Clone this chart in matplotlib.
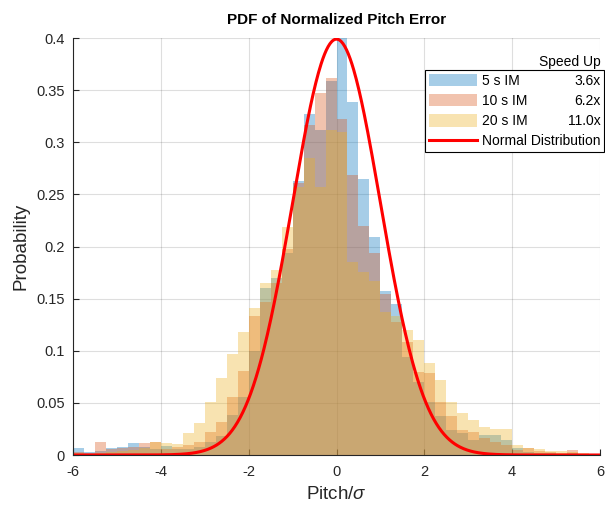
import numpy as np
import matplotlib
matplotlib.use('Agg')
import matplotlib.pyplot as plt
import matplotlib.patches as mpatches
from matplotlib.lines import Line2D

plt.rcParams['font.family'] = ['Liberation Sans', 'DejaVu Sans']
plt.rcParams['mathtext.fontset'] = 'custom'
plt.rcParams['mathtext.it'] = 'Liberation Sans:italic'
plt.rcParams['axes.unicode_minus'] = False

# histogram bins (normalized as pdf), left edges from -6 to 5.75, width 0.25
bin_width = 0.25
bin_edges = np.arange(-6, 6, bin_width)

pdf_5s = [0.0064, 0.003, 0.004, 0.0064, 0.0074, 0.0118, 0.008, 0.006,
          0.009, 0.006, 0.006, 0.008, 0.012, 0.018, 0.038, 0.056,
          0.100, 0.160, 0.170, 0.194, 0.263, 0.327, 0.312, 0.359,
          0.400, 0.339, 0.265, 0.209, 0.157, 0.145, 0.094, 0.070,
          0.051, 0.037, 0.024, 0.021, 0.0144, 0.019, 0.019, 0.0144,
          0.0064, 0.003, 0.002, 0.002, 0.001, 0.002, 0.001, 0.0]
pdf_10s = [0.003, 0.002, 0.0128, 0.0054, 0.0064, 0.008, 0.0118, 0.0128,
           0.006, 0.008, 0.010, 0.0128, 0.022, 0.032, 0.056, 0.081,
           0.133, 0.147, 0.165, 0.198, 0.261, 0.317, 0.347, 0.362,
           0.322, 0.269, 0.220, 0.194, 0.154, 0.128, 0.108, 0.080,
           0.079, 0.051, 0.037, 0.024, 0.0224, 0.016, 0.012, 0.010,
           0.005, 0.0064, 0.004, 0.003, 0.002, 0.0048, 0.001, 0.001]
pdf_20s = [0.002, 0.001, 0.002, 0.003, 0.004, 0.005, 0.007, 0.0128,
           0.0118, 0.011, 0.0208, 0.031, 0.051, 0.0735, 0.097, 0.118,
           0.141, 0.165, 0.1775, 0.219, 0.257, 0.285, 0.257, 0.312,
           0.310, 0.185, 0.176, 0.167, 0.137, 0.133, 0.120, 0.110,
           0.088, 0.072, 0.051, 0.040, 0.0336, 0.027, 0.0246, 0.0246,
           0.0096, 0.0064, 0.0054, 0.004, 0.004, 0.003, 0.002, 0.001]

labels = ['5 s IM', '10 s IM', '20 s IM']
speedups = ['3.6x', '6.2x', '11.0x']
colors = ['#0072bd', '#d95319', '#edb120']
face_alpha = 0.35

fig = plt.figure(figsize=(6.05, 5.05), dpi=100)
ax = fig.add_axes([0.1207, 0.099, 0.8710, 0.8257])

for vals, c in zip([pdf_5s, pdf_10s, pdf_20s], colors):
    ax.bar(bin_edges, vals, width=bin_width, align='edge', color=c,
           alpha=face_alpha, linewidth=0)

x = np.linspace(-6, 6, 600)
ax.plot(x, np.exp(-x**2 / 2) / np.sqrt(2 * np.pi), color='red', lw=2.2)

ax.set_xlim(-6, 6)
ax.set_ylim(0, 0.4)
ax.set_xticks(np.arange(-6, 7, 2))
ax.set_yticks(np.arange(0, 0.41, 0.05))
ax.set_yticklabels(['0', '0.05', '0.1', '0.15', '0.2', '0.25', '0.3', '0.35', '0.4'])
ax.grid(True, color='#262626', alpha=0.15, linewidth=0.8)
ax.set_axisbelow(True)
for s in ['top', 'right']:
    ax.spines[s].set_visible(False)
for s in ['left', 'bottom']:
    ax.spines[s].set_color('#262626')
    ax.spines[s].set_linewidth(0.8)
ax.tick_params(direction='in', length=4, width=0.8, colors='#262626',
               labelsize=10.5, labelcolor='#262626')
ax.tick_params(axis='x', pad=7)
ax.tick_params(axis='y', pad=6)

ax.set_title('PDF of Normalized Pitch Error', fontsize=11, fontweight='bold', pad=10)
ax.set_xlabel(r'Pitch/$\sigma$', fontsize=13.5, color='#262626', labelpad=5)
ax.set_ylabel('Probability', fontsize=13.5, color='#262626', labelpad=5)

handles = [mpatches.Patch(color=c, alpha=face_alpha, linewidth=0) for c in colors]
handles.append(Line2D([0], [0], color='red', lw=2.2))
leg = fig.legend(handles, labels + ['Normal Distribution'],
                 loc='upper right', bbox_to_anchor=(0.999, 0.862),
                 fontsize=10, frameon=True, fancybox=False, framealpha=1,
                 edgecolor='black', handlelength=3.45, handleheight=1.0,
                 handletextpad=0.35, labelspacing=0.44, borderpad=0.3,
                 borderaxespad=0)
leg.get_frame().set_linewidth(0.8)

# speed-up column to the right of the legend labels
fig.canvas.draw()
rend = fig.canvas.get_renderer()
frame_box = leg.get_frame().get_window_extent(rend)
fw, fh = fig.bbox.width, fig.bbox.height
right = (frame_box.x1 - 4) / fw
for t, s in zip(leg.get_texts()[:3], speedups):
    tb = t.get_window_extent(rend)
    fig.text(right, (tb.y0 + tb.y1) / 2 / fh, s, ha='right', va='center',
             fontsize=10, color='black', zorder=10)
fig.text(right, (frame_box.y1 + 8) / fh, 'Speed Up', ha='right', va='center',
         fontsize=10, color='black', zorder=10)

fig.savefig('out.png', dpi=100)
